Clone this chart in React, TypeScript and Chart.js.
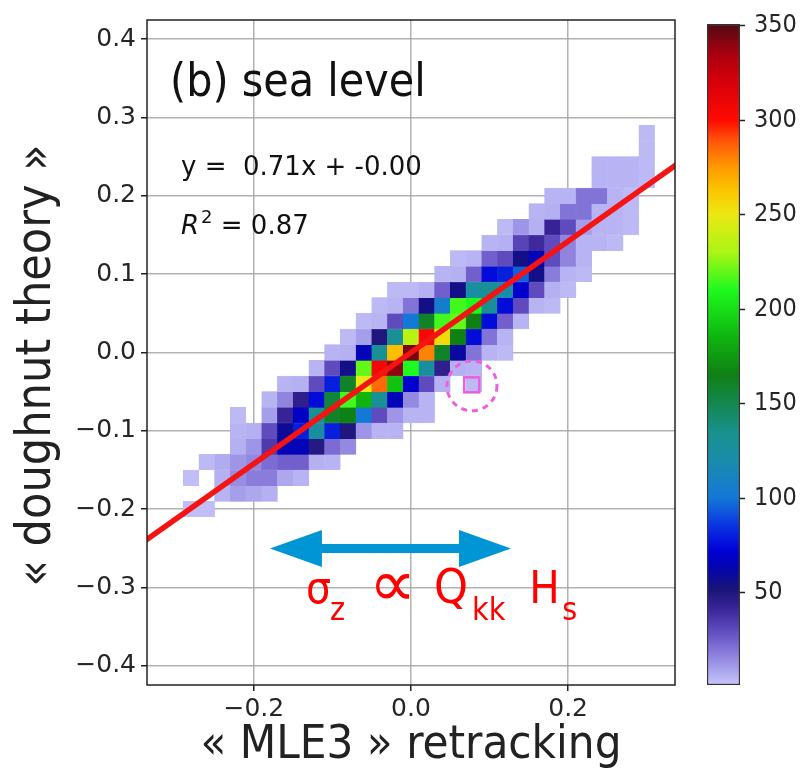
import React, { useEffect, useRef } from 'react';
import { Chart, registerables } from 'chart.js';

Chart.register(...registerables);

// ---------------- data ----------------
const binX = [-0.28, -0.26, -0.24, -0.22, -0.2, -0.18, -0.16, -0.14, -0.12, -0.1, -0.08, -0.06, -0.04, -0.02, 0.0, 0.02, 0.04, 0.06, 0.08, 0.1, 0.12, 0.14, 0.16, 0.18, 0.2, 0.22, 0.24, 0.26, 0.28, 0.3];
const binYStart = [-0.2, -0.2, -0.18, -0.18, -0.18, -0.18, -0.16, -0.16, -0.14, -0.14, -0.12, -0.1, -0.1, -0.1, -0.08, -0.08, -0.04, -0.02, -0.04, 0.0, 0.0, 0.04, 0.06, 0.06, 0.08, 0.1, 0.14, 0.14, 0.16, 0.22];
const binStep = 0.02;
const binCounts = [
  [3, 0, 3],
  [3, 0, 0, 4],
  [5, 6, 7],
  [10, 14, 12, 6, 5, 4],
  [8, 18, 15, 12, 6],
  [6, 18, 22, 35, 30, 10, 5],
  [8, 25, 65, 58, 42, 16, 5],
  [5, 25, 65, 80, 68, 45, 6],
  [6, 48, 125, 130, 75, 30, 5],
  [5, 22, 80, 160, 155, 80, 30, 5],
  [15, 50, 165, 215, 160, 55, 6, 4],
  [12, 100, 185, 250, 220, 65, 10, 4],
  [5, 30, 130, 285, 305, 130, 50, 5, 4],
  [5, 12, 65, 190, 340, 265, 130, 30, 5, 4],
  [5, 15, 70, 210, 345, 235, 100, 20, 4],
  [5, 5, 30, 125, 280, 305, 160, 55, 6],
  [6, 45, 160, 255, 215, 105, 25, 5],
  [6, 60, 165, 220, 215, 55, 6, 4],
  [4, 5, 20, 75, 165, 210, 125, 25, 5],
  [5, 20, 75, 130, 130, 75, 25, 5],
  [4, 5, 25, 75, 120, 80, 30, 6, 4],
  [5, 30, 70, 95, 55, 32, 12],
  [5, 30, 55, 65, 40, 6, 5],
  [4, 6, 18, 30, 30, 42, 6, 5],
  [4, 5, 16, 16, 30, 20, 5],
  [4, 5, 5, 10, 20, 20],
  [5, 5, 5, 20, 5, 5],
  [4, 5, 5, 5, 5, 5],
  [4, 4, 4, 5, 5],
  [4, 4, 4, 4],
];

const fitSlope = 0.71;
const fitIntercept = 0.0;
const fitX = [-0.36, 0.36];

const xRange = [-0.336, 0.336];
const yRange = [-0.4245, 0.4245];
const xTicks = [-0.2, 0.0, 0.2];
const yTicks = [-0.4, -0.3, -0.2, -0.1, 0.0, 0.1, 0.2, 0.3, 0.4];

const cbRange = [1, 351];
const cbTicks = [50, 100, 150, 200, 250, 300, 350];
const cmapValues = [1, 10, 20, 30, 42, 52, 62, 72, 85, 100, 120, 135, 150, 165, 185, 210, 230, 250, 262, 275, 290, 300, 320, 335, 351];
const cmapColors = ['#c8c6fa', '#a59eeb', '#8273d7', '#5f4bbe', '#372396', '#191478', '#0505aa', '#0000d7', '#0a32e1', '#1478d7', '#198caa', '#19918c', '#148750', '#0f8014', '#0fb40f', '#1efa1e', '#aaf514', '#ebe814', '#fac800', '#ff9b00', '#ff500a', '#ff0a00', '#d7000a', '#aa000f', '#500a14'];

const xTitle = '« MLE3 » retracking';
const yTitle = '« doughnut theory »';
const panelTitle = '(b) sea level';
const eqText = 'y =  0.71x + -0.00';
const r2Value = ' = 0.87';

// annotation anchors (data coordinates)
const panelTitlePos = [-0.3067, 0.3279];
const eqPos = [-0.2927, 0.2266];
const r2Pos = [-0.2927, 0.1512];
const arrowY = -0.2503;
const arrowX = [-0.1795, 0.1273];
const formulaPieces = [
  { text: 'σ', sub: false, x: -0.1336 },
  { text: 'z', sub: true, x: -0.1030 },
  { text: '∝', sub: false, x: -0.0540 },
  { text: 'Q', sub: false, x: 0.0293 },
  { text: 'kk', sub: true, x: 0.0777 },
  { text: 'H', sub: false, x: 0.1505 },
  { text: 's', sub: true, x: 0.1925 },
];
const formulaBaseY = -0.3202;
const formulaSubY = -0.3418;
const circleCenter = [0.0776, -0.0426];
const squareCenter = [0.0773, -0.0413];

const SANS = "'DejaVu Sans', sans-serif";
const COND = "'DejaVu Sans Condensed', 'DejaVu Sans', sans-serif";
const pieceFonts: Record<string, string> = {
  'σ': `44px ${COND}`,
  '∝': `200 66px 'DejaVu Sans ExtraLight', 'DejaVu Sans', sans-serif`,
  'Q': `48px ${COND}`,
  'H': `45px ${COND}`,
};
const pieceShift: Record<string, number> = { '∝': 3 };
const subFont = `32px ${COND}`;

function hexToRgb(h: string) {
  const n = parseInt(h.slice(1), 16);
  return [(n >> 16) & 255, (n >> 8) & 255, n & 255];
}

function cmapColor(v: number) {
  if (v <= cmapValues[0]) return cmapColors[0];
  for (let i = 1; i < cmapValues.length; i++) {
    if (v <= cmapValues[i]) {
      const t = (v - cmapValues[i - 1]) / (cmapValues[i] - cmapValues[i - 1]);
      const a = hexToRgb(cmapColors[i - 1]);
      const b = hexToRgb(cmapColors[i]);
      const c = a.map((av, k) => Math.round(av + (b[k] - av) * t));
      return `rgb(${c[0]},${c[1]},${c[2]})`;
    }
  }
  return cmapColors[cmapColors.length - 1];
}

function fmtTick(v: number) {
  if (Math.abs(v) < 1e-9) return '0.0';
  const s = v.toFixed(1);
  return s.replace('-', '\u2212');
}

const annotPlugin = {
  id: 'annot',
  afterDraw(chart: any) {
    const { ctx, chartArea: a } = chart;
    const xs = chart.scales.x;
    const ys = chart.scales.y;
    const px = (v: number) => xs.getPixelForValue(v);
    const py = (v: number) => ys.getPixelForValue(v);
    ctx.save();

    // frame
    ctx.strokeStyle = '#222';
    ctx.lineWidth = 1.5;
    ctx.strokeRect(a.left, a.top, a.right - a.left, a.bottom - a.top);

    // panel title & fit text
    ctx.fillStyle = '#111';
    ctx.textAlign = 'left';
    ctx.textBaseline = 'alphabetic';
    ctx.font = `46px ${COND}`;
    ctx.fillText(panelTitle, px(panelTitlePos[0]), py(panelTitlePos[1]));
    ctx.font = `26px ${SANS}`;
    ctx.fillText(eqText, px(eqPos[0]), py(eqPos[1]));
    let rx = px(r2Pos[0]);
    const ry = py(r2Pos[1]);
    ctx.font = `italic 26px ${SANS}`;
    ctx.fillText('R', rx, ry);
    rx += ctx.measureText('R').width + 2;
    ctx.font = `18px ${SANS}`;
    ctx.fillText('2', rx, ry - 11);
    rx += ctx.measureText('2').width;
    ctx.font = `26px ${SANS}`;
    ctx.fillText(r2Value, rx, ry);

    // blue double arrow
    const ay = py(arrowY);
    const x0 = px(arrowX[0]);
    const x1 = px(arrowX[1]);
    const headLen = 52;
    const headHalf = 18.5;
    const shaftHalf = 4.5;
    ctx.fillStyle = '#0096d6';
    ctx.beginPath();
    ctx.moveTo(x0, ay);
    ctx.lineTo(x0 + headLen, ay - headHalf);
    ctx.lineTo(x0 + headLen, ay - shaftHalf);
    ctx.lineTo(x1 - headLen, ay - shaftHalf);
    ctx.lineTo(x1 - headLen, ay - headHalf);
    ctx.lineTo(x1, ay);
    ctx.lineTo(x1 - headLen, ay + headHalf);
    ctx.lineTo(x1 - headLen, ay + shaftHalf);
    ctx.lineTo(x0 + headLen, ay + shaftHalf);
    ctx.lineTo(x0 + headLen, ay + headHalf);
    ctx.closePath();
    ctx.fill();

    // red formula
    ctx.fillStyle = '#ff0000';
    formulaPieces.forEach((p) => {
      ctx.font = p.sub ? subFont : pieceFonts[p.text] || `44px ${COND}`;
      const by = py(p.sub ? formulaSubY : formulaBaseY) + (pieceShift[p.text] || 0);
      ctx.fillText(p.text, px(p.x), by);
    });

    // pink dashed circle and square
    ctx.strokeStyle = '#ee5ee0';
    ctx.lineWidth = 3;
    ctx.setLineDash([6, 5]);
    ctx.beginPath();
    ctx.arc(px(circleCenter[0]), py(circleCenter[1]), 25, 0, Math.PI * 2);
    ctx.stroke();
    ctx.setLineDash([]);
    ctx.lineWidth = 2.5;
    ctx.strokeRect(px(squareCenter[0]) - 7.5, py(squareCenter[1]) - 7.5, 15, 15);

    // y axis label (rotated)
    ctx.fillStyle = '#222';
    ctx.font = `48px ${COND}`;
    ctx.textAlign = 'center';
    ctx.textBaseline = 'middle';
    ctx.translate(38, py(-0.0165));
    ctx.rotate(-Math.PI / 2);
    ctx.fillText(yTitle, 0, 0);
    ctx.restore();
  },
};

export default function App() {
  const mainRef = useRef<HTMLCanvasElement>(null);
  const cbRef = useRef<HTMLCanvasElement>(null);

  useEffect(() => {
    const cells: any[] = [];
    binX.forEach((cx, i) => {
      binCounts[i].forEach((v, j) => {
        if (v <= 0) return;
        const cy = Math.round((binYStart[i] + j * binStep) * 1000) / 1000;
        cells.push({ x: cx, y: [cy - binStep / 2, cy + binStep / 2], v });
      });
    });
    const cellColors = cells.map((c) => cmapColor(c.v));

    const tickFont = { family: SANS, size: 25 };
    const gridCommon = {
      color: 'rgba(165,165,165,0.85)',
      lineWidth: 1.5,
      tickColor: '#222',
      tickLength: 6,
      tickWidth: 1.5,
      offset: false,
    };

    const main = new Chart(mainRef.current as HTMLCanvasElement, {
      type: 'bar',
      data: {
        datasets: [
          {
            type: 'line',
            data: fitX.map((x) => ({ x, y: fitSlope * x + fitIntercept })),
            borderColor: '#f41414',
            borderWidth: 5.5,
            pointRadius: 0,
            order: 0,
          } as any,
          {
            type: 'bar',
            data: cells,
            backgroundColor: cellColors,
            borderColor: cellColors,
            borderWidth: 0.5,
            borderSkipped: false,
            barPercentage: 1,
            categoryPercentage: 1,
            grouped: false,
            order: 1,
          } as any,
        ],
      },
      options: {
        responsive: false,
        animation: false,
        events: [],
        layout: { padding: { left: 0, top: 17, right: 25, bottom: 0 } },
        plugins: { legend: { display: false }, tooltip: { enabled: false } },
        scales: {
          x: {
            type: 'linear',
            min: xRange[0],
            max: xRange[1],
            offset: false,
            z: 1,
            afterBuildTicks: (s: any) => {
              s.ticks = xTicks.map((v) => ({ value: v }));
            },
            afterFit: (s: any) => {
              s.height = 86;
            },
            ticks: { font: tickFont, color: '#262626', padding: 3, maxRotation: 0, callback: (v: any) => fmtTick(Number(v)) },
            grid: gridCommon,
            border: { display: false },
            title: {
              display: true,
              text: xTitle,
              font: { family: COND, size: 47, lineHeight: 1.0 },
              color: '#222',
              padding: { top: 0, bottom: 2 },
            },
          },
          y: {
            type: 'linear',
            min: yRange[0],
            max: yRange[1],
            z: 1,
            afterBuildTicks: (s: any) => {
              s.ticks = yTicks.map((v) => ({ value: v }));
            },
            afterFit: (s: any) => {
              s.width = 147;
            },
            ticks: { font: tickFont, color: '#262626', padding: 5, callback: (v: any) => fmtTick(Number(v)) },
            grid: gridCommon,
            border: { display: false },
          },
        },
      } as any,
      plugins: [annotPlugin],
    });

    const cb = new Chart(cbRef.current as HTMLCanvasElement, {
      type: 'bar',
      data: {
        labels: [''],
        datasets: [
          {
            data: [cbRange],
            backgroundColor: (ctx: any) => {
              const chart = ctx.chart;
              const ys = chart.scales.y;
              if (!chart.chartArea || !ys) return cmapColors[0];
              const yb = ys.getPixelForValue(cbRange[0]);
              const yt = ys.getPixelForValue(cbRange[1]);
              const g = chart.ctx.createLinearGradient(0, yb, 0, yt);
              cmapValues.forEach((v, i) => {
                const f = (v - cbRange[0]) / (cbRange[1] - cbRange[0]);
                g.addColorStop(Math.min(1, Math.max(0, f)), cmapColors[i]);
              });
              return g;
            },
            borderColor: '#333',
            borderWidth: 1.5,
            borderSkipped: false,
            barPercentage: 1,
            categoryPercentage: 1,
          } as any,
        ],
      },
      options: {
        responsive: false,
        animation: false,
        events: [],
        layout: { padding: { left: 7, top: 16, right: 0, bottom: 86 } },
        plugins: { legend: { display: false }, tooltip: { enabled: false } },
        scales: {
          x: { display: false },
          y: {
            position: 'right',
            min: cbRange[0],
            max: cbRange[1],
            afterBuildTicks: (s: any) => {
              s.ticks = cbTicks.map((v) => ({ value: v }));
            },
            afterFit: (s: any) => {
              s.width = 67;
            },
            ticks: { font: { family: COND, size: 25 }, color: '#262626', padding: 9 },
            grid: { drawOnChartArea: false, drawTicks: true, tickLength: 5, tickColor: '#222', tickWidth: 1.5 },
            border: { display: false },
          },
        },
      } as any,
    });

    return () => {
      main.destroy();
      cb.destroy();
    };
  }, []);

  return (
    <div style={{ position: 'fixed', left: 0, top: 0, width: 807, height: 771, background: '#fff' }}>
      <canvas ref={mainRef} width={700} height={771} style={{ position: 'absolute', left: 0, top: 0, width: 700, height: 771 }} />
      <canvas ref={cbRef} width={107} height={771} style={{ position: 'absolute', left: 700, top: 0, width: 107, height: 771 }} />
    </div>
  );
}
